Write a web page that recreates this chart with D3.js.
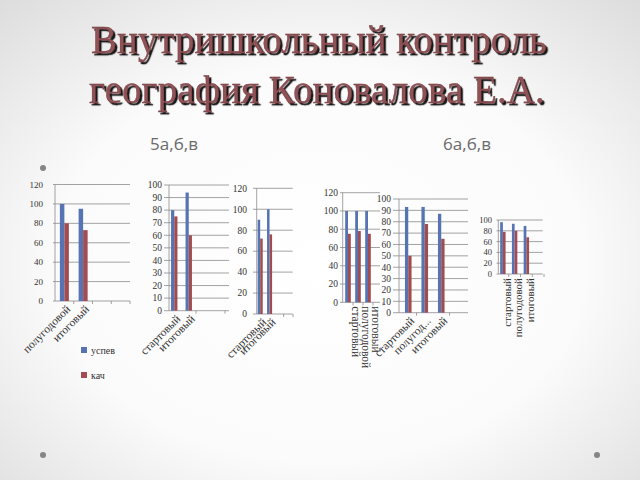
<!DOCTYPE html>
<html>
<head>
<meta charset="utf-8">
<script src="https://cdn.jsdelivr.net/npm/d3@7/dist/d3.min.js"></script>
<style>
html,body{margin:0;padding:0;background:#fff;}
svg{display:block;}
</style>
</head>
<body>
<svg id="c" width="640" height="480"></svg>
<script>
// ---------- data ----------
const titleLines = ["Внутришкольный контроль", "география Коновалова Е.А."];
const groupLabels = ["5а,б,в", "6а,б,в"];
const seriesNames = ["успев", "кач"];

const cats1 = ["полугодовой", "итоговый"];
const uspev1 = [100, 95];
const kach1 = [80, 73];

const cats2 = ["стартовый", "итоговый"];
const uspev2 = [80, 94];
const kach2 = [75, 60];

const cats3 = ["стартовый", "итоговый"];
const uspev3 = [90, 100];
const kach3 = [72, 76];

const cats4 = ["стартовый", "полугодовой", "итоговый"];
const uspev4 = [100, 100, 100];
const kach4 = [75, 78, 75];

const cats5 = ["стартовый", "полугод...", "итоговый"];
const uspev5 = [93, 93, 87];
const kach5 = [50, 78, 65];

const cats6 = ["стартовый", "полугодовой", "итоговый"];
const uspev6 = [96, 93, 89];
const kach6 = [78, 80, 68];

const yMax1 = 120, yStep1 = 20;
const yMax2 = 100, yStep2 = 10;
const yMax3 = 120, yStep3 = 20;
const yMax4 = 120, yStep4 = 20;
const yMax5 = 100, yStep5 = 10;
const yMax6 = 100, yStep6 = 20;

// ---------- drawing ----------
const svg = d3.select("#c");
const defs = svg.append("defs");
const rg = defs.append("radialGradient").attr("id", "bg")
  .attr("cx", "50%").attr("cy", "55%").attr("r", "75%");
rg.append("stop").attr("offset", "0%").attr("stop-color", "#ffffff");
rg.append("stop").attr("offset", "55%").attr("stop-color", "#fbfbfb");
rg.append("stop").attr("offset", "100%").attr("stop-color", "#dcdcdc");
svg.append("rect").attr("width", 640).attr("height", 480).attr("fill", "url(#bg)");

const sh = defs.append("filter").attr("id", "sh").attr("filterUnits", "userSpaceOnUse")
  .attr("x", 0).attr("y", 0).attr("width", 640).attr("height", 140);
sh.append("feDropShadow").attr("dx", 2.2).attr("dy", 2.2).attr("stdDeviation", 0.4)
  .attr("flood-color", "#111").attr("flood-opacity", 0.95);

const BLUE = "#5673b4", RED = "#a04c50";
const FONT = "'Liberation Serif', 'DejaVu Serif', serif";

// title: font size fitted so each line spans ~456px
const titleY = [53, 103];
titleLines.forEach((t, i) => {
  const cx = i === 0 ? 319 : 317;
  const txt = svg.append("text").attr("x", cx).attr("y", titleY[i])
    .attr("text-anchor", "middle").attr("font-family", FONT).attr("font-size", 40)
    .attr("fill", "#8f5257").attr("stroke", "#6e3539").attr("stroke-width", 0.35)
    .attr("filter", "url(#sh)").text(t);
  const w = txt.node().getComputedTextLength();
  if (w > 0) txt.attr("font-size", Math.min(44, 40 * 456 / w));
});

// subtitles
[[174, groupLabels[0]], [467, groupLabels[1]]].forEach(([x, t]) => {
  svg.append("text").attr("x", x).attr("y", 150).attr("text-anchor", "middle")
    .attr("font-family", "'Open Sans', 'DejaVu Sans', sans-serif").attr("font-size", 17)
    .attr("fill", "#6b6b6b").text(t);
});

// bullets
[[43, 168], [43, 455], [597, 455]].forEach(([x, y]) => {
  svg.append("circle").attr("cx", x).attr("cy", y).attr("r", 3).attr("fill", "#858585");
});

function chart(cfg) {
  const g = svg.append("g");
  const y = d3.scaleLinear().domain([0, cfg.max]).range([cfg.y0, cfg.yTop]);
  const slots = cfg.cats.concat(d3.range(cfg.nBands - cfg.cats.length).map(i => "__e" + i));
  const x = d3.scaleBand().domain(slots).range([cfg.bx0, cfg.bx1]).padding(0);
  const bw = x.bandwidth() * cfg.barFrac;
  const ticks = d3.range(0, cfg.max + 0.001, cfg.step);

  g.selectAll("line.grid").data(ticks).join("line")
    .attr("x1", cfg.gx0).attr("x2", cfg.gx1)
    .attr("y1", d => y(d)).attr("y2", d => y(d))
    .attr("stroke", "#8c8c8c").attr("stroke-width", 0.8);
  g.append("line").attr("x1", cfg.ax).attr("x2", cfg.ax)
    .attr("y1", y(cfg.max)).attr("y2", cfg.y0)
    .attr("stroke", "#8c8c8c").attr("stroke-width", 0.8);
  g.selectAll("text.yl").data(ticks).join("text")
    .attr("x", cfg.lx).attr("y", d => y(d)).attr("dy", "0.35em")
    .attr("text-anchor", "end").attr("font-family", FONT)
    .attr("font-size", cfg.yfs).attr("fill", "#333").text(d => d);
  cfg.tickIdx.forEach(i => {
    const tx = cfg.bx0 + i * x.bandwidth();
    g.append("line").attr("x1", tx).attr("x2", tx)
      .attr("y1", cfg.y0).attr("y2", cfg.y0 + 3)
      .attr("stroke", "#8c8c8c").attr("stroke-width", 0.8);
  });
  const series = [[cfg.u, BLUE], [cfg.k, RED]];
  series.forEach(([vals, col], si) => {
    g.selectAll(null).data(vals).join("rect")
      .attr("x", (d, i) => x(cfg.cats[i]) + x.bandwidth() / 2 - bw + si * bw)
      .attr("width", bw)
      .attr("y", d => y(d))
      .attr("height", d => cfg.y0 - y(d))
      .attr("fill", col);
  });
  cfg.cats.forEach((c, i) => {
    const cx = x(c) + x.bandwidth() / 2;
    const t = g.append("text").attr("font-family", FONT).attr("font-size", cfg.xfs)
      .attr("fill", "#333").text(c);
    if (cfg.rot === -45) {
      t.attr("text-anchor", "end")
        .attr("transform", `translate(${cx + 4},${cfg.y0 + 6}) rotate(-45)`)
        .attr("dy", "0.35em");
    } else if (cfg.rot === 90) {
      t.attr("text-anchor", "start")
        .attr("transform", `translate(${cx + 1},${cfg.y0 + 4}) rotate(90)`)
        .attr("dy", "-0.3em");
    } else {
      t.attr("text-anchor", "end")
        .attr("transform", `translate(${cx + 4},${cfg.y0 + 4}) rotate(-90)`)
        .attr("dy", "0.35em");
    }
  });
}

chart({cats: cats1, u: uspev1, k: kach1, max: yMax1, step: yStep1,
  y0: 301, yTop: 184.5, bx0: 55, bx1: 130, nBands: 4, barFrac: 0.24,
  ax: 55, gx0: 53, gx1: 130, lx: 43, yfs: 9, xfs: 11.5, rot: -45, tickIdx: [1, 2, 3, 4]});

chart({cats: cats2, u: uspev2, k: kach2, max: yMax2, step: yStep2,
  y0: 310.7, yTop: 185, bx0: 167, bx1: 225, nBands: 4, barFrac: 0.22,
  ax: 169, gx0: 164, gx1: 229, lx: 162, yfs: 9.5, xfs: 11.5, rot: -45, tickIdx: [2, 4]});

chart({cats: cats3, u: uspev3, k: kach3, max: yMax3, step: yStep3,
  y0: 314, yTop: 188.3, bx0: 255.5, bx1: 293, nBands: 4, barFrac: 0.27,
  ax: 256.7, gx0: 253, gx1: 292.7, lx: 247, yfs: 9.5, xfs: 11.5, rot: -45, tickIdx: [3, 4]});

chart({cats: cats4, u: uspev4, k: kach4, max: yMax4, step: yStep4,
  y0: 302.3, yTop: 192.7, bx0: 343, bx1: 383, nBands: 4, barFrac: 0.28,
  ax: 342.7, gx0: 340, gx1: 380, lx: 338, yfs: 9.5, xfs: 11.5, rot: 90, tickIdx: [1, 2, 3, 4]});

chart({cats: cats5, u: uspev5, k: kach5, max: yMax5, step: yStep5,
  y0: 312.7, yTop: 199, bx0: 400, bx1: 466, nBands: 4, barFrac: 0.2,
  ax: 399, gx0: 393, gx1: 468, lx: 391, yfs: 9.5, xfs: 11.5, rot: -45, tickIdx: [1, 3]});

chart({cats: cats6, u: uspev6, k: kach6, max: yMax6, step: yStep6,
  y0: 274, yTop: 220, bx0: 497, bx1: 544, nBands: 4, barFrac: 0.23,
  ax: 498.3, gx0: 496.5, gx1: 542.7, lx: 492, yfs: 8.5, xfs: 11, rot: -90, tickIdx: [1, 2, 3, 4]});

seriesNames.forEach((n, i) => {
  const ly = 350 + i * 25;
  svg.append("rect").attr("x", 81).attr("y", ly - 3).attr("width", 6).attr("height", 6)
    .attr("fill", i === 0 ? BLUE : RED);
  svg.append("text").attr("x", 91).attr("y", ly).attr("dy", "0.35em")
    .attr("font-family", FONT).attr("font-size", 10).attr("fill", "#333").text(n);
});
</script>
</body>
</html>
